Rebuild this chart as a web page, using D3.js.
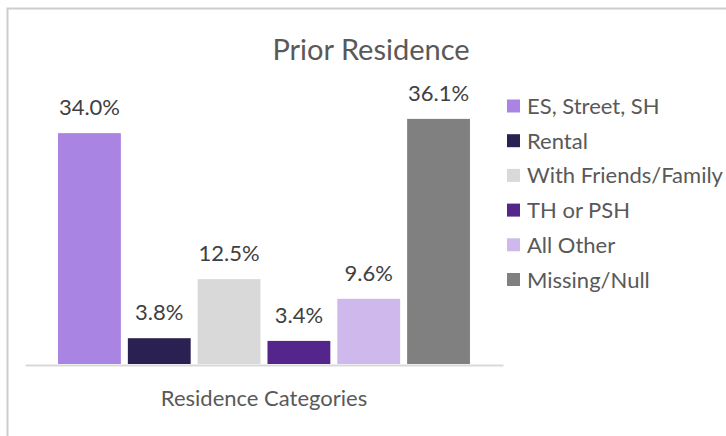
<!DOCTYPE html>
<html>
<head>
<meta charset="utf-8">
<script src="https://cdn.jsdelivr.net/npm/d3@7"></script>
<style>
  body { margin: 0; background: #fff; }
  text { font-family: Lato, "Open Sans", sans-serif; }
</style>
</head>
<body>
<svg id="chart"></svg>
<script>
// data
const categoryName = "Residence Categories";
const seriesNames = ["ES, Street, SH", "Rental", "With Friends/Family", "TH or PSH", "All Other", "Missing/Null"];
const seriesValues = [34.0, 3.8, 12.5, 3.4, 9.6, 36.1];
const seriesColors = ["#a984e3", "#2a2152", "#d9d9d9", "#54268c", "#cfb8eb", "#808080"];

const width = 726, height = 436;
const baseY = 364;

const svg = d3.select("#chart")
    .attr("width", width)
    .attr("height", height);

// chart frame (runs past the right and bottom edges)
svg.append("rect")
    .attr("x", 7.5)
    .attr("y", 8.5)
    .attr("width", 800)
    .attr("height", 500)
    .attr("fill", "#fff")
    .attr("stroke", "#cdcdd1")
    .attr("stroke-width", 2);

svg.append("text")
    .attr("x", 371)
    .attr("y", 60)
    .attr("text-anchor", "middle")
    .attr("font-size", "29px")
    .attr("fill", "#595959")
    .text("Prior Residence");

// one category on the axis, six series inside it
const xCat = d3.scaleBand()
    .domain([categoryName])
    .range([25, 503]);

const x = d3.scaleBand()
    .domain(seriesNames)
    .range(xCat.range())
    .paddingInner(0.1)
    .paddingOuter(0.473);

const y = d3.scaleLinear()
    .domain([0, 40])
    .range([baseY, baseY - 40 * 6.79]);

const color = d3.scaleOrdinal().domain(seriesNames).range(seriesColors);

const rows = seriesNames.map((name, i) => ({ name, value: seriesValues[i] }));

svg.selectAll(".bar")
    .data(rows)
    .enter()
    .append("rect")
    .attr("class", "bar")
    .attr("x", d => x(d.name))
    .attr("y", d => y(d.value))
    .attr("width", x.bandwidth())
    .attr("height", d => y(0) - y(d.value))
    .attr("fill", d => color(d.name));

svg.selectAll(".lbl")
    .data(rows)
    .enter()
    .append("text")
    .attr("class", "lbl")
    .attr("x", d => x(d.name) + x.bandwidth() / 2)
    .attr("y", d => y(d.value) - 18)
    .attr("text-anchor", "middle")
    .attr("font-size", "22px")
    .attr("fill", "#404040")
    .text(d => d.value.toFixed(1) + "%");

const axis = svg.append("g")
    .attr("transform", `translate(0,${baseY + 1})`)
    .call(d3.axisBottom(xCat).tickSize(0).tickPadding(25));

axis.select(".domain")
    .attr("stroke", "#d9d9d9")
    .attr("stroke-width", 2);

axis.selectAll("text")
    .attr("font-size", "22px")
    .attr("fill", "#595959")
    .attr("font-family", "Lato, sans-serif");

// legend
const legend = svg.append("g");
const legendY = d3.scalePoint().domain(seriesNames).range([106, 279.5]);

legend.selectAll("rect")
    .data(seriesNames)
    .enter()
    .append("rect")
    .attr("x", 507)
    .attr("y", d => legendY(d) - 6.5)
    .attr("width", 13)
    .attr("height", 13)
    .attr("fill", d => color(d));

legend.selectAll("text")
    .data(seriesNames)
    .enter()
    .append("text")
    .attr("x", 527)
    .attr("y", d => legendY(d) + 8)
    .attr("font-size", "22px")
    .attr("fill", "#595959")
    .text(d => d);
</script>
</body>
</html>
